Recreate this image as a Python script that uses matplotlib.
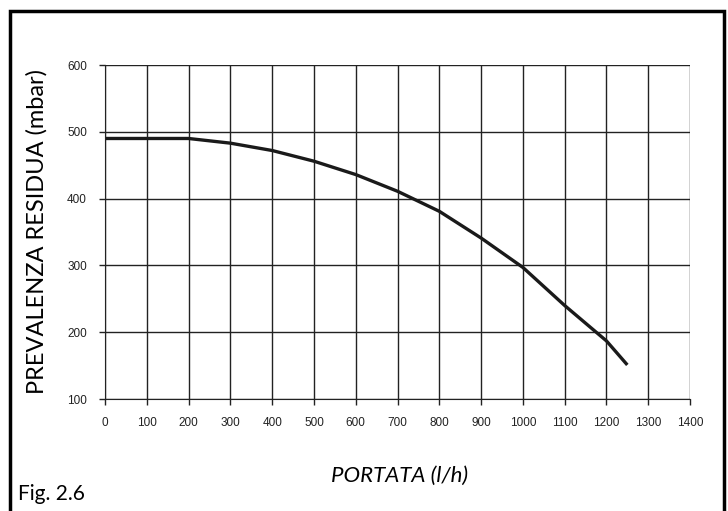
import matplotlib
matplotlib.use('Agg')
import matplotlib.pyplot as plt
import matplotlib.patches as mpatches

# データ
portata = [0, 100, 200, 300, 400, 500, 600, 700, 800, 900, 1000, 1100, 1200, 1250]
prevalenza = [490, 490, 490, 483, 472, 456, 436, 411, 381, 341, 297, 240, 187, 151]
x_ticks = list(range(0, 1401, 100))
y_ticks = [100, 200, 300, 400, 500, 600]

fig = plt.figure(figsize=(7.28, 5.11), dpi=100)
ax = fig.add_axes([105 / 728, 1 - 399 / 511, 585 / 728, 334 / 511])

ax.plot(portata, prevalenza, color='#1a1a1a', linewidth=2.4, solid_capstyle='butt')

ax.set_xlim(0, 1400)
ax.set_ylim(100, 600)
ax.set_xticks(x_ticks)
ax.set_yticks(y_ticks)
ax.grid(True, color='#222222', linewidth=1.0)
ax.set_axisbelow(True)
for s in ax.spines.values():
    s.set_visible(False)
ax.spines['left'].set_visible(True)
ax.spines['bottom'].set_visible(True)
ax.spines['left'].set_color('#222222')
ax.spines['bottom'].set_color('#222222')
ax.tick_params(direction='out', length=4, width=1, color='#222222', pad=9)
for lab in ax.get_xticklabels() + ax.get_yticklabels():
    lab.set_family(['Liberation Sans Narrow', 'Liberation Sans'])
    lab.set_fontweight('normal')
    lab.set_fontsize(8.5)
    lab.set_color('#222222')

# 軸ラベル
fig.text(37 / 728, 1 - 231 / 511, 'PREVALENZA RESIDUA (mbar)', rotation=90,
         ha='center', va='center', fontsize=17, family='Lato',
         fontweight='normal', color='black')
fig.text(400 / 728, 1 - 476 / 511, 'PORTATA (l/h)', style='italic',
         ha='center', va='center', fontsize=16, family='Lato',
         fontweight='normal', color='black')
fig.text(18 / 728, 1 - 494 / 511, 'Fig. 2.6', ha='left', va='center',
         fontsize=15, family='Lato', fontweight='normal', color='black')

# 外枠
frame = mpatches.Rectangle((10 / 728, -0.05), 714 / 728, 1 - 11 / 511 + 0.05,
                           transform=fig.transFigure, fill=False,
                           edgecolor='black', linewidth=2.5, clip_on=False)
fig.patches.append(frame)

plt.savefig('out.png', dpi=100)
